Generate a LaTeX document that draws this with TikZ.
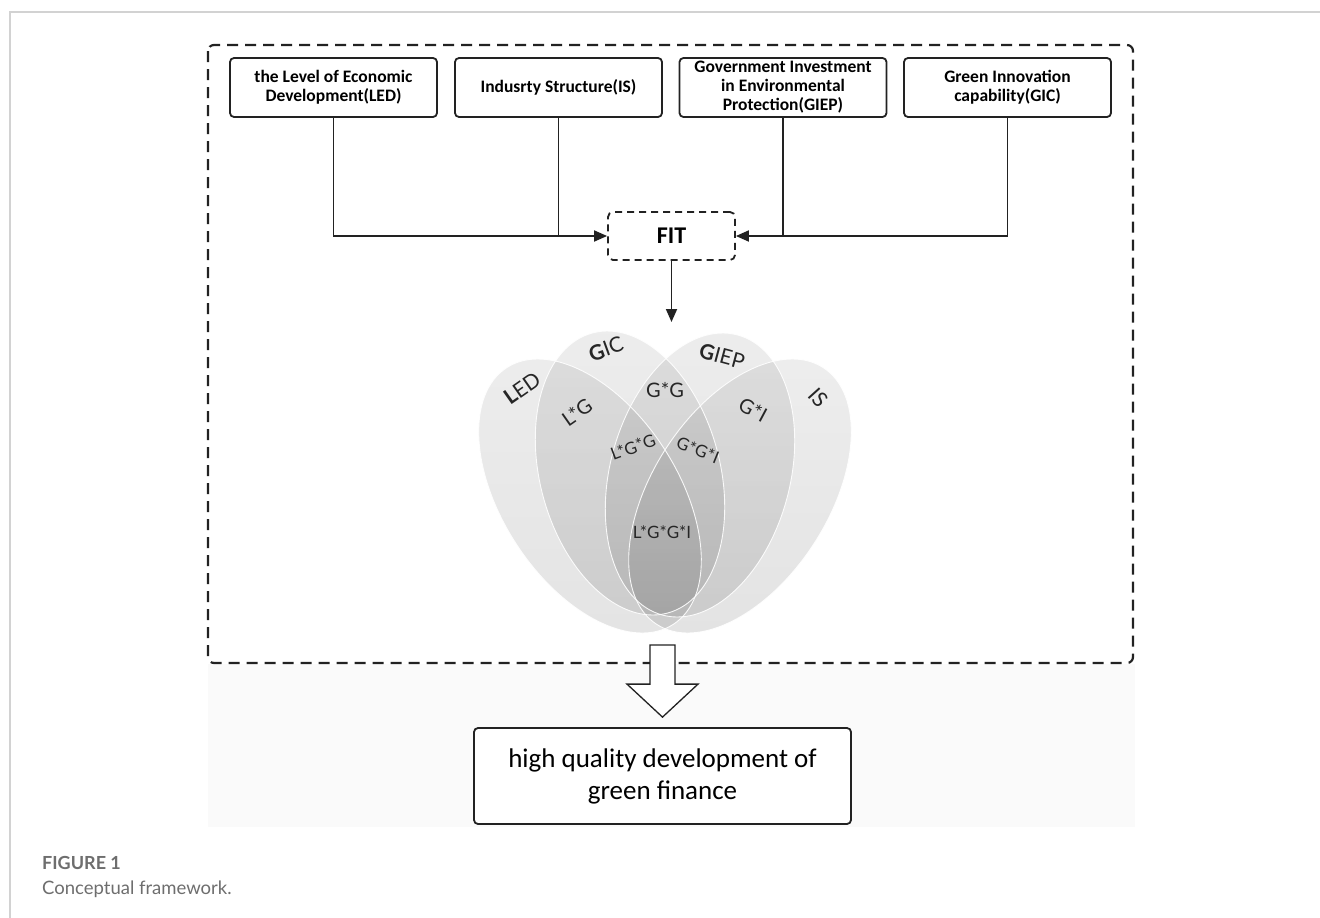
\documentclass[tikz,border=0pt]{standalone}
\usepackage{fontspec}
\setmainfont{Carlito}
\newfontfamily\vennfont{Lato}
\newfontfamily\capfont{Lato}
\usetikzlibrary{arrows.meta,calc}
\definecolor{capgray}{HTML}{6E6E6E}
\definecolor{ink}{HTML}{222222}
\begin{document}
\begin{tikzpicture}[x=1pt,y=-1pt,
  topbox/.style={draw=ink, line width=1.8pt, rounded corners=4pt, minimum width=207pt, minimum height=59pt, align=center, font=\fontsize{17.5}{19}\selectfont\bfseries, inner sep=1pt},
  fitbox/.style={draw=ink, line width=1.8pt, dash pattern=on 7pt off 5pt, rounded corners=5pt, minimum width=127pt, minimum height=48pt, font=\fontsize{24}{24}\selectfont\bfseries},
  conn/.style={draw=ink, line width=1.8pt},
  arr/.style={conn, -{Triangle[length=13pt,width=11pt]}},
  ellfill/.style={top color=black!55, bottom color=black!85, fill opacity=0.125},
  elledge/.style={draw=white, draw opacity=0.9, line width=0.9pt},
  vl/.style={font=\vennfont\fontsize{21}{21}\selectfont, text=black!85, inner sep=0pt},
  vm/.style={font=\vennfont\fontsize{20}{20}\selectfont, text=black!85, inner sep=0pt},
  vs/.style={font=\vennfont\fontsize{17}{17}\selectfont, text=black!85, inner sep=0pt},
  hollow/.style={draw=ink, line width=1.3pt, fill=white, line join=miter},
  capt/.style={anchor=base west, inner sep=0pt, text=capgray},
]
\useasboundingbox (0,0) rectangle (1320,918);
\fill[white] (0,0) rectangle (1320,918);
% page frame lines
\draw[gray!35, line width=1.5pt] (10,918) -- (10,12) -- (1320,12);
% light band
\fill[black!2] (208,664) rectangle (1135,827);
% outer dashed frame
\draw[ink, line width=2.2pt, dash pattern=on 11pt off 7pt, rounded corners=6pt] (208,45) rectangle (1133,663);

% top boxes
\node[topbox] (led) at (333.5,87.5) {the Level of Economic\\Development(LED)};
\node[topbox] (is) at (558.5,87.5) {Indusrty Structure(IS)};
\node[topbox] (giep) at (783,87.5) {Government Investment\\in Environmental\\Protection(GIEP)};
\node[topbox] (gic) at (1007.5,87.5) {Green Innovation\\capability(GIC)};
\node[fitbox] (fit) at (671.5,236) {FIT};

\draw[arr] (led.south) |- (fit.west);
\draw[conn] (is.south) -- (is.south |- fit.west);
\draw[arr] (gic.south) |- (fit.east);
\draw[conn] (giep.south) -- (giep.south |- fit.east);
\coordinate (vtop) at (671.5,322);
\draw[arr] (fit.south) -- (vtop);

% Venn diagram
\shade[ellfill, rotate around={33:(590,496)}] (590,496) ellipse [x radius=88pt, y radius=153pt];
\shade[ellfill, rotate around={-33:(740,496)}] (740,496) ellipse [x radius=88pt, y radius=153pt];
\shade[ellfill, rotate around={15:(630,473)}] (630,473) ellipse [x radius=90pt, y radius=145pt];
\shade[ellfill, rotate around={-15:(700,475)}] (700,475) ellipse [x radius=90pt, y radius=145pt];
\draw[elledge, rotate around={33:(590,496)}] (590,496) ellipse [x radius=88pt, y radius=153pt];
\draw[elledge, rotate around={-33:(740,496)}] (740,496) ellipse [x radius=88pt, y radius=153pt];
\draw[elledge, rotate around={15:(630,473)}] (630,473) ellipse [x radius=90pt, y radius=145pt];
\draw[elledge, rotate around={-15:(700,475)}] (700,475) ellipse [x radius=90pt, y radius=145pt];

\node[vl, rotate=35] (tled) at (522,388) {\textbf{L}ED};
\node[vl, rotate=20] (tgic) at (606,349) {\textbf{G}IC};
\node[vl, rotate=-15] (tgiep) at (722,356) {\textbf{G}IEP};
\node[vl, rotate=-48] (tis) at (818,398) {IS};
\node[vm, rotate=35] (tlg) at (577,412) {L*G};
\node[vm] (tgg) at (665,390) {G*G};
\node[vm, rotate=-28] (tgi) at (753,410) {G*I};
\node[vs, rotate=20] (tlgg) at (633,447) {L*G*G};
\node[vs, rotate=-22] (tggi) at (698,450) {G*G*I};
\node[vs] (tall) at (662,532) {L*G*G*I};

% bottom
\node[draw=ink, line width=1.8pt, rounded corners=4pt, minimum width=377pt, minimum height=96pt, fill=white, align=center, font=\fontsize{27}{32}\selectfont] (hq) at (662.5,776) {high quality development of\\green finance};
\coordinate (astart) at (662.5,645);
\coordinate (aend) at ($(hq.north)+(0,-10)$);
\draw[hollow] ($(astart)+(-12.5,0)$) -- ($(astart)+(12.5,0)$) -- ($(aend)+(12.5,-33)$) -- ($(aend)+(35.5,-33)$) -- (aend) -- ($(aend)+(-35.5,-33)$) -- ($(aend)+(-12.5,-33)$) -- cycle;

% caption
\node[capt, font=\capfont\bfseries\fontsize{18}{18}\selectfont] (fig) at (42,869) {FIGURE 1};
\node[capt, font=\capfont\fontsize{18.5}{18}\selectfont] (cap) at (42,894) {Conceptual framework.};
\end{tikzpicture}
\end{document}
